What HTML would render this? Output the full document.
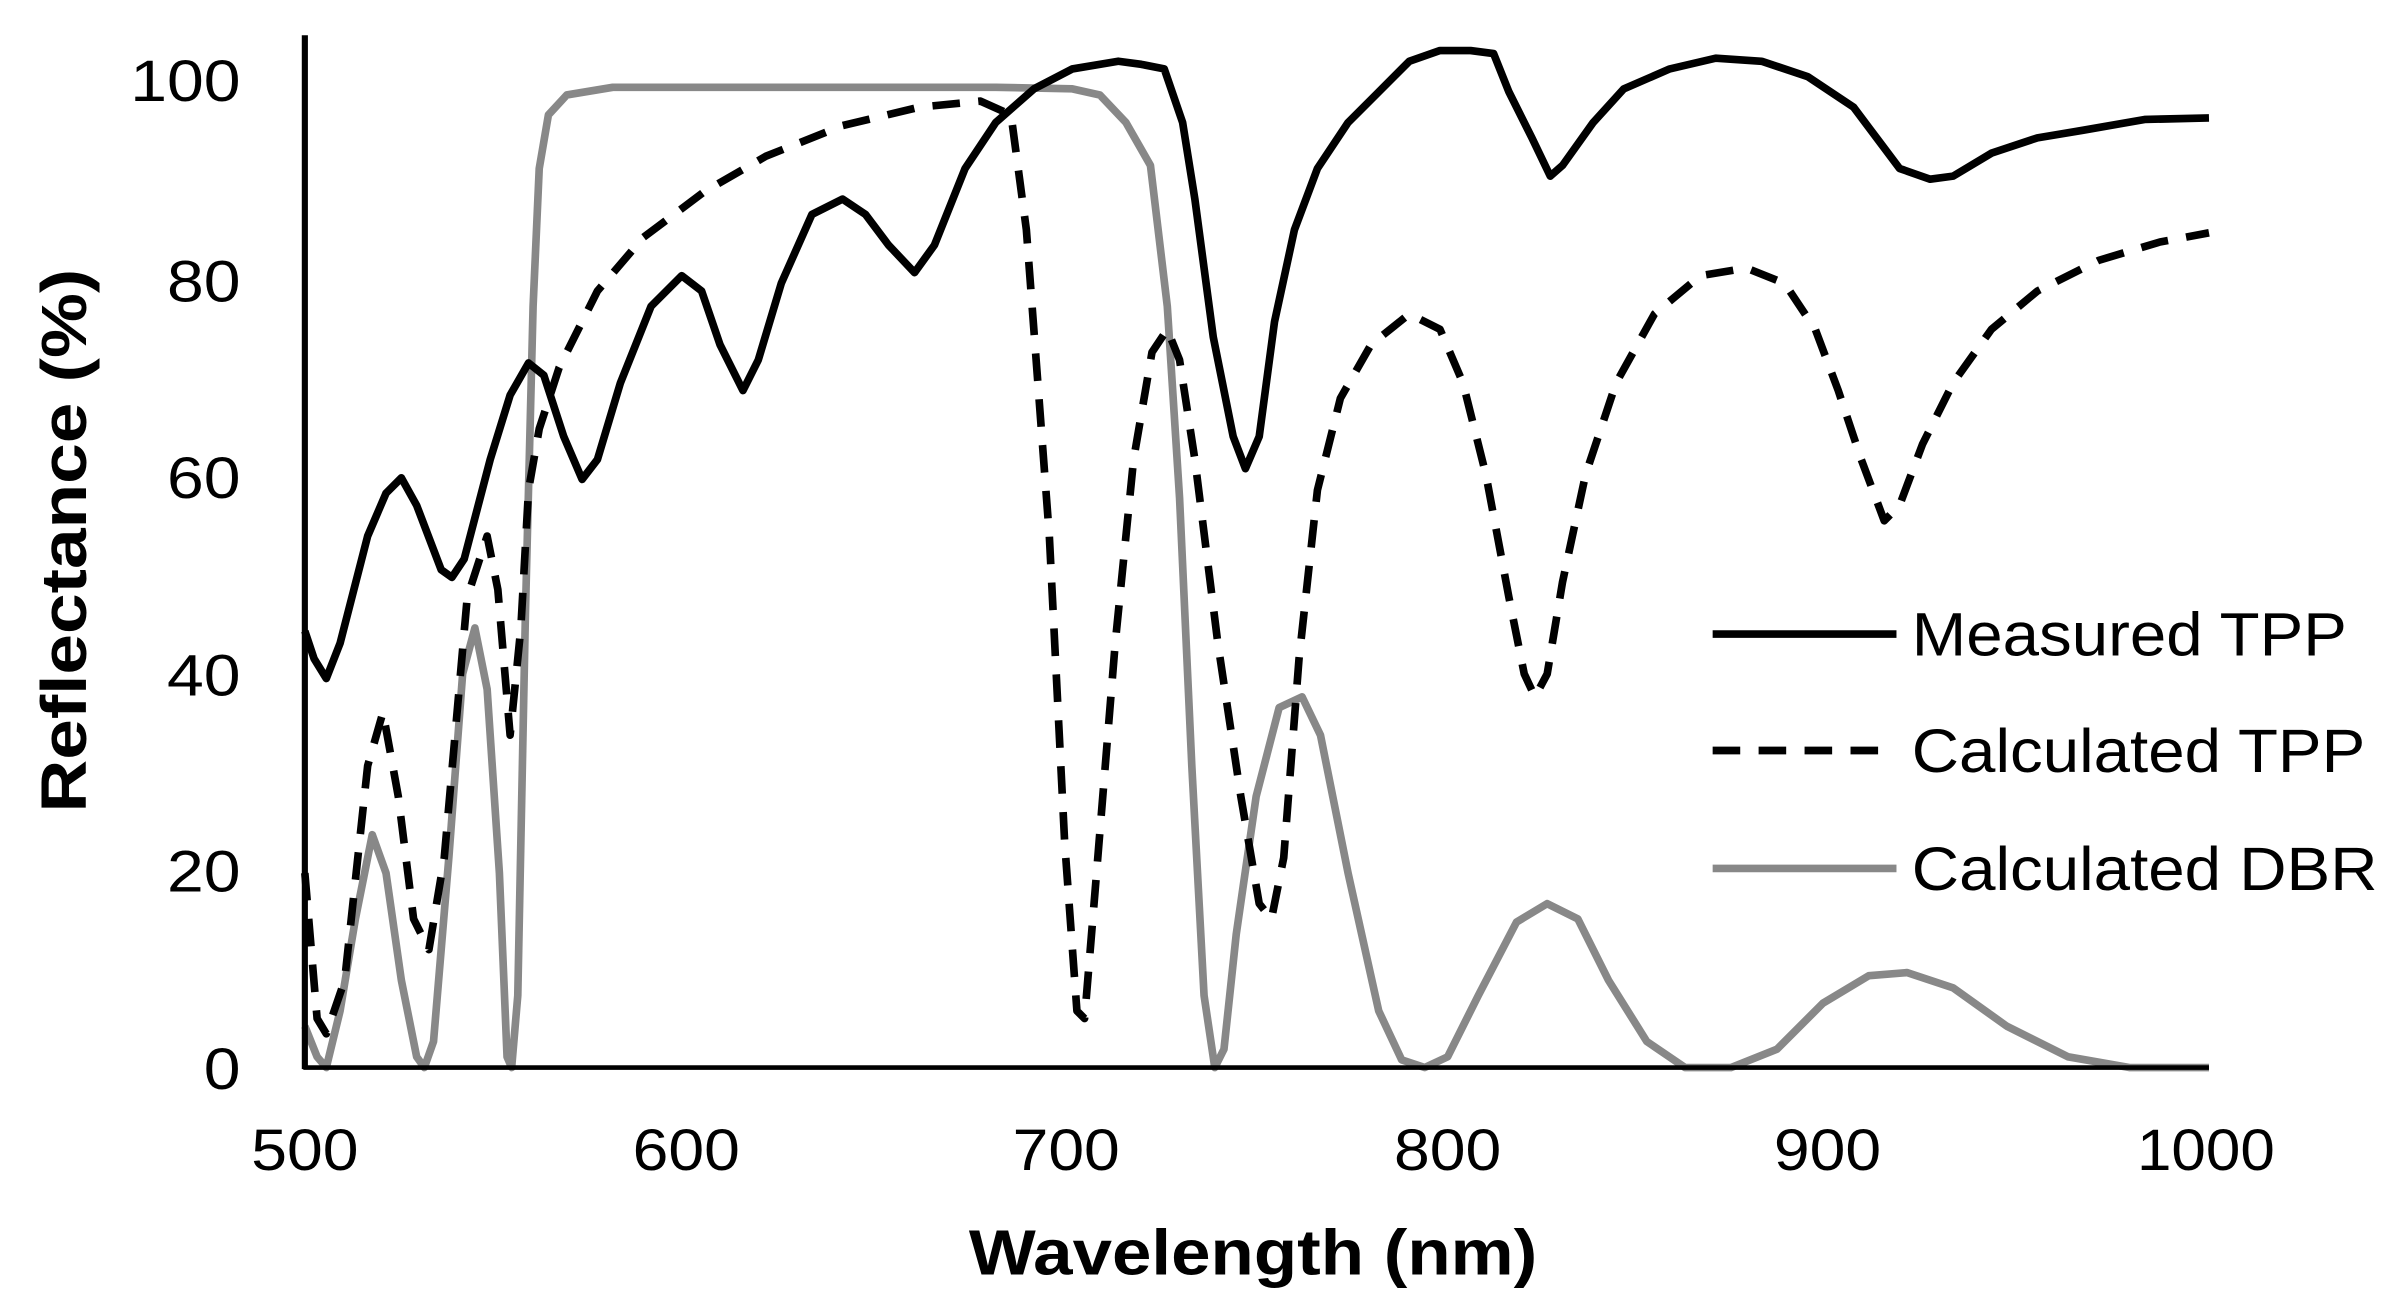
<!DOCTYPE html>
<html><head><meta charset="utf-8"><style>
html,body{margin:0;padding:0;background:#fff;}
svg{display:block;}
text{font-family:"Liberation Sans",sans-serif;fill:#000;}
</style></head><body>
<svg width="2402" height="1308" viewBox="0 0 1568 854" preserveAspectRatio="none" xmlns="http://www.w3.org/2000/svg">
<rect width="1568" height="854" fill="#fff"/>
<g font-size="38" text-anchor="end">
<text x="157" y="66" textLength="72" lengthAdjust="spacingAndGlyphs">100</text>
<text x="157" y="197" textLength="48" lengthAdjust="spacingAndGlyphs">80</text>
<text x="157" y="325" textLength="48" lengthAdjust="spacingAndGlyphs">60</text>
<text x="157" y="454" textLength="48" lengthAdjust="spacingAndGlyphs">40</text>
<text x="157" y="582" textLength="48" lengthAdjust="spacingAndGlyphs">20</text>
<text x="157" y="711" textLength="24" lengthAdjust="spacingAndGlyphs">0</text>
</g>
<g font-size="38" text-anchor="middle">
<text x="199" y="764" textLength="70" lengthAdjust="spacingAndGlyphs">500</text>
<text x="448" y="764" textLength="70" lengthAdjust="spacingAndGlyphs">600</text>
<text x="696" y="764" textLength="70" lengthAdjust="spacingAndGlyphs">700</text>
<text x="945" y="764" textLength="70" lengthAdjust="spacingAndGlyphs">800</text>
<text x="1193" y="764" textLength="70" lengthAdjust="spacingAndGlyphs">900</text>
<text x="1440" y="764" textLength="90" lengthAdjust="spacingAndGlyphs">1000</text>
</g>
<text x="818" y="832" font-size="42" font-weight="bold" text-anchor="middle" textLength="371" lengthAdjust="spacingAndGlyphs">Wavelength (nm)</text>
<text transform="translate(56,353) rotate(-90)" font-size="42" font-weight="bold" text-anchor="middle" textLength="355" lengthAdjust="spacingAndGlyphs">Reflectance (%)</text>
<polyline fill="none" stroke="#888" stroke-width="5" stroke-linejoin="round" points="199,670 207,690 213,697 222,660 232,600 243,545 252,570 262,640 272,690 277,697 283,680 293,560 302,440 310,410 318,450 326,570 331,690 334,697 338,650 343,400 348,200 352,110 358,75 370,62 400,57 500,57 650,57 700,58 718,62 735,80 751,108 762,200 770,325 778,500 786,650 793,697 799,685 807,610 820,520 835,462 850,455 862,480 880,570 900,660 915,692 930,697 945,690 965,650 990,602 1010,590 1030,600 1050,640 1075,680 1100,697 1130,697 1160,685 1190,655 1220,637 1245,635 1275,645 1310,670 1350,690 1390,697 1442,697"/>
<polyline fill="none" stroke="#000" stroke-width="5" stroke-dasharray="18,12" stroke-linejoin="round" points="199,570 207,665 213,675 225,640 240,500 250,465 260,520 270,600 280,620 290,560 305,390 318,350 325,385 333,480 340,410 345,320 352,280 365,240 390,190 420,155 460,125 500,102 550,82 600,70 640,66 660,75 670,150 685,350 695,550 703,660 708,665 715,580 728,420 740,300 752,230 762,215 770,235 780,300 795,420 810,520 822,590 830,600 838,560 848,430 860,320 875,260 895,225 920,205 940,215 955,250 970,310 985,390 995,440 1002,455 1010,440 1020,380 1035,310 1055,250 1080,205 1110,180 1140,175 1165,185 1185,215 1200,255 1215,300 1230,340 1240,330 1255,290 1275,250 1300,215 1330,190 1370,170 1410,158 1442,152"/>
<polyline fill="none" stroke="#000" stroke-width="5" stroke-linejoin="round" points="199,412 205,430 213,443 222,420 240,350 252,322 262,312 272,330 288,372 295,377 303,365 320,300 333,258 345,237 355,245 368,285 380,313 390,300 405,250 425,200 445,180 458,190 470,225 485,255 495,235 510,185 530,140 550,130 565,140 580,160 597,178 610,160 630,110 650,80 675,58 700,45 730,40 745,42 760,45 772,80 780,130 792,220 805,285 813,306 822,285 832,210 845,150 860,110 880,80 900,60 920,40 940,33 960,33 975,35 985,60 1000,90 1012,115 1020,108 1040,80 1060,58 1090,45 1120,38 1150,40 1180,50 1210,70 1225,90 1240,110 1260,117 1275,115 1300,100 1330,90 1360,85 1400,78 1442,77"/>
<line x1="199" y1="23" x2="199" y2="698" stroke="#000" stroke-width="4"/>
<line x1="198" y1="697" x2="1442" y2="697" stroke="#000" stroke-width="3"/>
<line x1="1118" y1="414" x2="1238" y2="414" stroke="#000" stroke-width="5"/>
<line x1="1118" y1="490" x2="1238" y2="490" stroke="#000" stroke-width="5" stroke-dasharray="18,12"/>
<line x1="1118" y1="567" x2="1238" y2="567" stroke="#888" stroke-width="5"/>
<g font-size="40">
<text x="1248" y="428" textLength="284" lengthAdjust="spacingAndGlyphs">Measured TPP</text>
<text x="1248" y="504" textLength="296" lengthAdjust="spacingAndGlyphs">Calculated TPP</text>
<text x="1248" y="581" textLength="304" lengthAdjust="spacingAndGlyphs">Calculated DBR</text>
</g>
</svg>
</body></html>
